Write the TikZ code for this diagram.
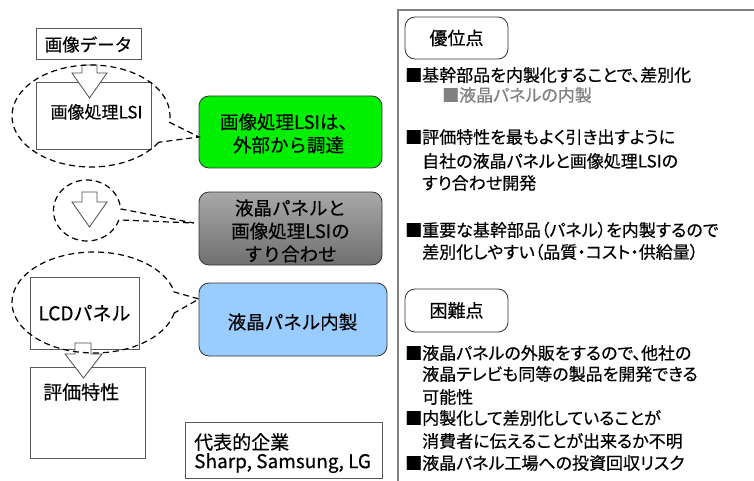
\documentclass[tikz,border=0pt]{standalone}
\usepackage{fontspec}
\setmainfont{Noto Sans CJK JP}[FakeBold=0.4]
\newfontfamily\jpp{Noto Sans CJK JP}[RawFeature=+palt, FakeBold=0.4]
\begin{document}
\begin{tikzpicture}[x=1pt,y=-1pt,
  every node/.style={font=\fontsize{18.5}{23}\selectfont, inner sep=0pt},
  plainbox/.style={draw=black!65, line width=1pt, fill=white},
  rbox/.style={draw=black!80, line width=0.8pt, rounded corners=10pt},
  callout/.style={draw=black, dash pattern=on 6pt off 4pt, line width=1.2pt},
  blockarrow/.style={draw=black!70, fill=white, line width=0.8pt},
  rp/.style={font=\jpp\fontsize{17}{22}\selectfont},
  ln/.style={rp, anchor=west},
  subln/.style={rp, anchor=west, text=black!50},
  big/.style={font=\fontsize{19}{21}\selectfont}
]
\useasboundingbox (0,0) rectangle (754,481);
\fill[white] (0,0) rectangle (754,481);

% right panel frame
\draw[black!50, line width=1.5pt] (398,481) -- (398,10) -- (754,10);

% left boxes
\node[plainbox, minimum width=105pt, minimum height=31pt, font=\fontsize{17.5}{20}\selectfont] (data) at (88.5,44.5) {画像データ};
\node[plainbox, minimum width=115pt, minimum height=67pt] (lsi) at (93.5,116.5) {};
\node[font=\fontsize{17}{20}\selectfont] (lsit) at (96.5,112) {画像処理LSI};
\node[plainbox, minimum width=109pt, minimum height=72pt, big] (lcd) at (84.5,313) {LCDパネル};
\node[plainbox, minimum width=115pt, minimum height=91pt] (eval) at (87.5,412.5) {};
\node[anchor=west, big] (evalt) at (43,392) {評価特性};

% block arrows
\draw[blockarrow] (82,65) -- (97,65) -- (97,73) -- (107,73) -- (89.5,98) -- (72,73) -- (82,73) -- cycle;
\draw[blockarrow] (82,192) -- (97,192) -- (97,202) -- (107,202) -- (89.5,227) -- (72,202) -- (82,202) -- cycle;
\draw[blockarrow] (75,343) -- (91,343) -- (91,354) -- (102,354) -- (83.5,378) -- (65,354) -- (75,354) -- cycle;

% colored boxes
\node[rbox, fill={rgb,255:red,0;green,240;blue,0}, minimum width=183pt, minimum height=72pt] (green) at (290.5,132) {};
\node[align=center] (greent) at (288.5,133.5) {画像処理LSIは、\\外部から調達};
\node[rbox, top color={rgb,255:red,168;green,168;blue,168}, bottom color={rgb,255:red,112;green,112;blue,112}, minimum width=183pt, minimum height=73pt] (gray) at (290.5,228.5) {};
\node[align=center] (grayt) at (290.5,231) {液晶パネルと\\画像処理LSIの\\すり合わせ};
\node[rbox, fill={rgb,255:red,153;green,204;blue,255}, minimum width=188pt, minimum height=73pt] (blue) at (293,319.5) {};
\node (bluet) at (292.5,322) {液晶パネル内製};

% company box
\node[plainbox, minimum width=197pt, minimum height=56pt] (comp) at (283.5,450) {};
\node[anchor=west, big] (comp1) at (194,442) {代表的企業};
\node[anchor=west, big] (comp2) at (194,463) {Sharp, Samsung, LG};

% callouts
\draw[callout] plot[domain=31:367, samples=90] ({91+79*cos(\x)},{116+51*sin(\x)}) -- (199,137) -- cycle;
\draw[callout] plot[domain=18:357, samples=70] ({87+33.5*cos(\x)},{210.5+30.5*sin(\x)}) -- (194,223) -- cycle;
\draw[callout] plot[domain=12:348, samples=90] ({94+82*cos(\x)},{302.5+50.5*sin(\x)}) -- (199,299) -- cycle;

% right panel
\node[rbox, fill=white, minimum width=103pt, minimum height=42pt, font=\fontsize{18}{20}\selectfont] (adv) at (456.5,38) {優位点};
\node[ln] (a1) at (405,75) {■基幹部品を内製化することで、差別化};
\node[subln] (a2) at (442,95) {■液晶パネルの内製};
\node[ln] (a3) at (405,137) {■評価特性を最もよく引き出すように};
\node[ln] (a4) at (422,161) {自社の液晶パネルと画像処理LSIの};
\node[ln] (a5) at (422,183) {すり合わせ開発};
\node[ln] (a6) at (405,230) {■重要な基幹部品（パネル）を内製するので};
\node[ln] (a7) at (422,252) {差別化しやすい（品質・コスト・供給量）};

\node[rbox, fill=white, minimum width=103pt, minimum height=43pt, font=\fontsize{18}{20}\selectfont] (dif) at (456.5,310.5) {困難点};
\node[ln] (d1) at (405,353) {■液晶パネルの外販をするので、他社の};
\node[ln] (d2) at (422,374) {液晶テレビも同等の製品を開発できる};
\node[ln] (d3) at (422,397) {可能性};
\node[ln] (d4) at (405,418) {■内製化して差別化していることが};
\node[ln] (d5) at (422,441) {消費者に伝えることが出来るか不明};
\node[ln] (d6) at (405,463) {■液晶パネル工場への投資回収リスク};
\end{tikzpicture}
\end{document}
